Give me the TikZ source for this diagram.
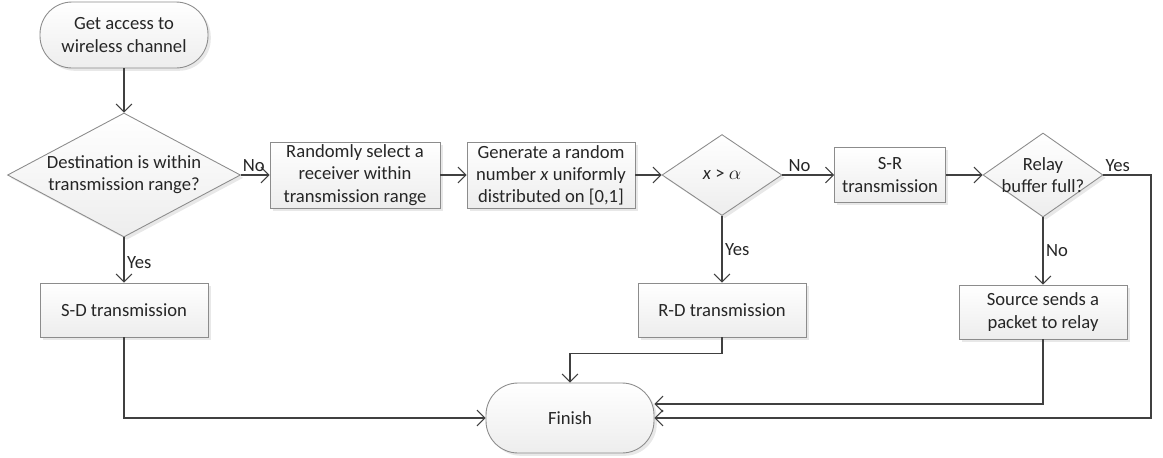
\documentclass[tikz,border=0pt]{standalone}
\usepackage{fontspec}
\setmainfont{Carlito}
\usepackage{amsmath}
\usetikzlibrary{calc, positioning, arrows.meta, shapes.geometric, shadows}

\definecolor{linegray}{HTML}{404040}
\definecolor{boxgray}{HTML}{8C8C8C}
\definecolor{txtgray}{HTML}{262626}

\tikzset{
    shapefill/.style={draw=boxgray, line width=0.5pt, top color=white, bottom color=black!7,
        drop shadow={shadow xshift=1.6pt, shadow yshift=-1.6pt, fill=black!18}},
    block/.style={rectangle, shapefill, align=center, inner sep=0pt},
    terminal/.style={rectangle, rounded corners=0.64cm, shapefill, align=center, inner sep=0pt},
    decision/.style={diamond, shapefill, align=center, inner sep=0pt},
    flow/.style={draw=linegray, line width=0.6pt, -{Straight Barb[length=4.5pt, width=9pt]}},
    lbl/.style={inner sep=1.5pt}
}

\begin{document}
\begin{tikzpicture}[x=0.02cm, y=-0.02cm,
        every node/.append style={font=\fontsize{10.6}{12.6}\selectfont, text=txtgray}]
        \useasboundingbox (0,0) rectangle (1163,457);

        \node[terminal, minimum width=3.36cm, minimum height=1.32cm](start) at (124,35){Get access to\\wireless channel};
        \node[decision, aspect=1.88, minimum width=4.66cm, minimum height=2.48cm](dest) at (124,175){Destination is within\\transmission range?};
        \node[block, minimum width=3.4cm, minimum height=1.32cm](select) at (355,175){Randomly select a\\receiver within\\transmission range};
        \node[block, minimum width=3.36cm, minimum height=1.32cm](gen) at (551,175){Generate a random\\number \textit{x} uniformly\\distributed on [0,1]};
        \node[decision, aspect=1.48, minimum width=2.4cm, minimum height=1.62cm](cmp) at (722,175){\textit{x} > $\alpha$};
        \node[block, minimum width=2.22cm, minimum height=1.1cm](sr) at (890,175){S-R\\transmission};
        \node[decision, aspect=1.43, minimum width=2.4cm, minimum height=1.68cm, inner xsep=-0.3cm](relay) at (1043,175){Relay\\buffer full?};

        \node[block, minimum width=3.36cm, minimum height=1.08cm](sd) at (124,310){S-D transmission};
        \node[block, minimum width=3.36cm, minimum height=1.08cm](rd) at (722,310){R-D transmission};
        \node[block, minimum width=3.36cm, minimum height=1.08cm](src) at (1043,312){Source sends a\\packet to relay};
        \node[terminal, minimum width=3.36cm, minimum height=1.4cm](finish) at (570,418){Finish};
        \coordinate (rgt) at (1151,175);

        \path[flow]
        (start) edge (dest)
        (dest) edge node[lbl, above, pos=0.45] {No} (select)
        (select) edge (gen)
        (gen) edge (cmp)
        (cmp) edge node[lbl, above, pos=0.33] {No} (sr)
        (sr) edge (relay)
        (dest) edge node[lbl, right, pos=0.55] {Yes} (sd)
        (cmp) edge node[lbl, right, pos=0.5] {Yes} (rd)
        (relay) edge node[lbl, right, pos=0.5] {No} (src);

        \draw[flow] (sd) |- (finish);
        \draw[flow] (rd.south) -- ++(0,16) -| (finish.north);
        \draw[flow] (src.south) |- ($(finish.east)+(0,-14)$);
        \draw[flow] (relay.east) -- node[lbl, above, pos=0.3] {Yes} (rgt) |- (finish.east);
    \end{tikzpicture}
\end{document}
